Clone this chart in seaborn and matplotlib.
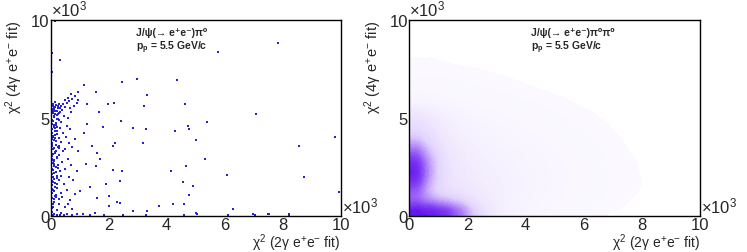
import numpy as np
import pandas as pd
import matplotlib
matplotlib.use("Agg")
import matplotlib.pyplot as plt
from matplotlib.colors import LinearSegmentedColormap
from matplotlib.ticker import MultipleLocator
import seaborn as sns

# left panel: J/psi pi0 events, chi2 values in units of 10^3
cluster_x = [0.05, 0.08, 0.12, 0.04, 0.18, 0.10, 0.22, 0.06, 0.15, 0.28, 0.09, 0.20, 0.13, 0.33, 0.05,
             0.17, 0.25, 0.08, 0.38, 0.12, 0.21, 0.06, 0.30, 0.15, 0.44, 0.09, 0.24, 0.18, 0.05, 0.35,
             0.12, 0.27, 0.08, 0.20, 0.41, 0.14, 0.06, 0.31, 0.22, 0.10, 0.17, 0.37, 0.05, 0.26, 0.13,
             0.45, 0.20, 0.08, 0.32, 0.16, 0.40, 0.11, 0.25, 0.50, 0.06, 0.35, 0.19, 0.29, 0.42, 0.55,
             0.14, 0.62, 0.48, 0.75, 0.85, 0.70, 0.58, 0.95, 0.90, 0.80, 0.65, 0.70, 0.60, 0.55, 0.68,
             0.52, 0.62, 0.75, 0.50, 0.85, 0.95, 0.58, 0.70, 0.48, 0.90, 0.62, 0.78, 0.45, 0.55, 0.85,
             0.40, 0.65, 0.30, 0.50, 0.75, 0.20, 0.35, 0.60, 0.27, 0.36, 0.03, 0.23, 0.03, 0.11, 0.34,
             0.02, 0.19, 0.03, 0.28, 0.02, 0.15, 0.02, 0.24, 0.03, 0.33, 0.09, 0.02, 0.02, 0.02, 0.02,
             0.02, 0.02, 0.02, 0.02, 0.02, 0.02, 0.02, 0.02, 0.02, 0.02, 0.07, 0.13, 0.20, 0.31, 0.45,
             0.55, 0.72, 0.90, 1.10, 1.35, 1.52, 1.85, 2.50, 3.30, 4.60, 5.05, 6.10, 7.05, 7.50, 8.20,
             0.02, 0.04, 0.04, 0.32, 0.16, 0.02,
             0.01, 0.04, 0.07, 0.11, 0.14, 0.03, 0.09, 0.16, 0.21, 0.06, 0.12, 0.01, 0.05, 0.18, 0.08,
             0.26, 0.02, 0.13, 0.10, 0.04, 0.23, 0.07, 0.15, 0.01, 0.11, 0.29, 0.05, 0.19, 0.03, 0.09,
             0.14, 0.06, 0.22, 0.01, 0.12, 0.17, 0.04, 0.08, 0.27, 0.02, 0.10, 0.15, 0.06, 0.20, 0.03,
             0.13, 0.09, 0.01, 0.24, 0.07, 0.16, 0.04, 0.11, 0.30, 0.02, 0.18, 0.08, 0.05, 0.14, 0.21]
cluster_y = [0.20, 0.45, 0.70, 0.90, 1.05, 1.25, 1.40, 1.55, 1.65, 1.80, 1.95, 2.05, 2.20, 2.30, 2.40,
             2.50, 2.60, 2.70, 2.75, 2.85, 2.95, 3.05, 3.10, 3.20, 3.30, 3.40, 3.50, 3.60, 3.70, 3.75,
             3.85, 3.95, 4.05, 4.15, 4.20, 4.30, 4.40, 4.45, 4.55, 4.65, 4.75, 4.80, 4.90, 4.95, 5.05,
             5.10, 5.15, 5.25, 5.30, 5.35, 5.40, 5.45, 5.50, 5.55, 5.60, 5.60, 5.65, 5.70, 5.72, 5.75,
             5.80, 5.85, 5.90, 5.95, 6.10, 6.20, 6.00, 5.90, 5.75, 5.60, 5.50, 5.30, 5.00, 4.60, 4.40,
             4.00, 3.70, 3.50, 3.40, 3.90, 3.30, 2.90, 2.60, 2.40, 2.30, 2.00, 1.80, 1.60, 1.30, 1.10,
             0.95, 0.80, 0.60, 0.45, 0.35, 0.30, 0.15, 0.60, 0.85, 1.15, 1.35, 1.90, 2.15, 2.55, 2.05,
             2.95, 3.30, 3.55, 3.45, 4.25, 4.50, 4.75, 5.20, 5.35, 5.50, 5.70, 5.50, 5.10, 4.60, 4.00,
             3.80, 3.20, 2.60, 2.30, 1.80, 1.50, 1.10, 0.70, 0.35, 0.05, 0.05, 0.08, 0.04, 0.06, 0.03,
             0.08, 0.05, 0.10, 0.07, 0.05, 0.12, 0.06, 0.04, 0.05, 0.06, 0.10, 0.04, 0.05, 0.07, 0.06,
             6.50, 7.35, 8.30, 7.96, 9.95, 6.90,
             0.15, 0.40, 0.62, 0.85, 1.00, 1.18, 1.32, 1.48, 1.62, 1.75, 1.88, 2.00, 2.12, 2.25, 2.35,
             2.45, 2.58, 2.65, 2.78, 2.90, 3.02, 3.14, 3.25, 3.36, 3.48, 3.58, 3.66, 3.80, 3.92, 4.00,
             4.10, 4.22, 4.33, 4.42, 4.52, 4.62, 4.70, 4.82, 4.88, 4.97, 5.08, 5.18, 5.28, 5.36, 5.43,
             5.52, 5.58, 5.65, 5.62, 5.68, 5.55, 5.45, 5.33, 5.22, 0.55, 0.95, 1.70, 2.85, 3.95, 4.95]

sparse_x = [7.85, 5.76, 2.97, 4.34, 2.45, 1.15, 3.31, 1.56, 0.93, 4.64, 3.20, 2.18, 1.99, 1.26, 1.68,
            7.08, 2.41, 5.38, 1.26, 2.85, 1.79, 3.29, 4.72, 4.78, 4.28, 1.15, 9.79, 5.01, 3.17, 1.43,
            2.16, 2.23, 8.57, 1.61, 5.32, 1.70, 1.20, 1.56, 4.67, 4.14, 2.14, 2.46, 6.07, 8.72, 2.39,
            4.55, 1.91, 4.90, 1.01, 1.36, 2.00, 4.76, 9.93, 1.59, 2.30, 2.39, 4.21, 4.60, 2.00, 6.30,
            3.31, 2.83, 3.72, 5.01, 6.99, 7.51, 8.21]
sparse_y = [8.81, 8.33, 6.97, 6.94, 6.80, 6.65, 6.16, 6.33, 6.33, 5.71, 5.61, 5.73, 5.68, 5.71, 5.27,
            5.17, 4.83, 4.76, 4.66, 4.49, 4.54, 4.44, 4.59, 4.42, 4.32, 4.20, 4.03, 3.86, 3.72, 3.57,
            3.57, 3.71, 3.55, 3.20, 2.89, 2.87, 2.65, 2.55, 2.55, 2.28, 2.33, 2.28, 2.07, 1.97, 1.77,
            1.73, 1.63, 1.53, 1.26, 1.46, 0.99, 1.05, 1.19, 0.88, 0.68, 0.65, 0.61, 0.61, 0.51, 0.34,
            0.24, 0.24, 0.48, 0.14, 0.07, 0.07, 0.07]

# right panel: J/psi pi0 pi0 events, relative density on a 0.5k grid (rows: y from 0.25 up)
grid_centres = np.arange(0.25, 10.0, 0.5)
density_rows = [
    [100, 95, 85, 60, 30, 15, 8, 5, 4, 3, 2, 2, 1.5, 1, 1, 1, 0.8, 0.7, 0.6, 0.5],
    [60, 45, 35, 28, 18, 12, 8, 6, 4.5, 3.5, 3, 2.5, 2, 1.5, 1.2, 1, 0.9, 0.8, 0.7, 0.6],
    [65, 30, 22, 18, 14, 11, 8, 6, 5, 4, 3, 2.5, 2, 1.6, 1.3, 1.1, 1, 0.9, 0.8, 0.7],
    [85, 35, 20, 15, 12, 10, 8, 6.5, 5, 4, 3.2, 2.6, 2.1, 1.7, 1.4, 1.2, 1, 0.9, 0.8, 0.7],
    [95, 40, 20, 14, 11, 9, 7.5, 6, 5, 4, 3.2, 2.6, 2, 1.6, 1.3, 1.1, 1, 0.9, 0.8, 0.7],
    [85, 38, 19, 13, 10, 8, 7, 5.5, 4.5, 3.8, 3, 2.4, 2, 1.6, 1.3, 1.1, 0.9, 0.8, 0.7, 0.6],
    [65, 32, 17, 12, 9, 7, 6, 5, 4, 3.4, 2.8, 2.3, 1.9, 1.5, 1.2, 1, 0.9, 0.8, 0.7, 0.6],
    [40, 25, 15, 10, 8, 6, 5, 4.2, 3.5, 3, 2.5, 2, 1.7, 1.4, 1.1, 1, 0.8, 0.7, 0.6, 0.5],
    [28, 20, 12, 8, 6.5, 5, 4.2, 3.5, 3, 2.5, 2.1, 1.8, 1.5, 1.2, 1, 0.9, 0.7, 0.6, 0.5, 0.5],
    [22, 16, 10, 7, 5.5, 4.2, 3.5, 3, 2.5, 2.1, 1.8, 1.5, 1.3, 1.1, 0.9, 0.8, 0.6, 0.5, 0.5, 0.4],
    [15, 11, 7, 5, 4, 3.3, 2.8, 2.4, 2, 1.7, 1.5, 1.3, 1.1, 0.9, 0.8, 0.7, 0.6, 0.5, 0.4, 0.4],
    [6, 5, 4, 3.2, 2.8, 2.4, 2, 1.8, 1.6, 1.4, 1.2, 1, 0.9, 0.8, 0.7, 0.6, 0.5, 0.4, 0.4, 0.3],
    [3, 2.8, 2.5, 2.2, 2, 1.8, 1.6, 1.4, 1.2, 1.1, 1, 0.9, 0.8, 0.7, 0.6, 0.5, 0.4, 0.4, 0.3, 0.3],
    [2, 2, 1.8, 1.7, 1.6, 1.4, 1.3, 1.1, 1, 0.9, 0.8, 0.7, 0.6, 0.6, 0.5, 0.4, 0.4, 0.3, 0.3, 0.3],
    [1.5, 1.5, 1.4, 1.3, 1.2, 1.1, 1, 0.9, 0.8, 0.7, 0.6, 0.6, 0.5, 0.5, 0.4, 0.4, 0.3, 0.3, 0.3, 0.2],
    [1.2, 1.2, 1.1, 1, 1, 0.9, 0.8, 0.7, 0.7, 0.6, 0.5, 0.5, 0.4, 0.4, 0.4, 0.3, 0.3, 0.3, 0.2, 0.2],
    [1, 1, 0.9, 0.9, 0.8, 0.7, 0.7, 0.6, 0.6, 0.5, 0.5, 0.4, 0.4, 0.3, 0.3, 0.3, 0.3, 0.2, 0.2, 0.2],
    [0.8, 0.8, 0.8, 0.7, 0.7, 0.6, 0.6, 0.5, 0.5, 0.4, 0.4, 0.4, 0.3, 0.3, 0.3, 0.3, 0.2, 0.2, 0.2, 0.2],
    [0.7, 0.7, 0.7, 0.6, 0.6, 0.5, 0.5, 0.5, 0.4, 0.4, 0.4, 0.3, 0.3, 0.3, 0.3, 0.2, 0.2, 0.2, 0.2, 0.2],
    [0.6, 0.6, 0.6, 0.5, 0.5, 0.5, 0.4, 0.4, 0.4, 0.4, 0.3, 0.3, 0.3, 0.3, 0.2, 0.2, 0.2, 0.2, 0.2, 0.2],
]

sns.set_style("white")
plt.rcParams['font.family'] = ['Liberation Sans', 'DejaVu Sans']
plt.rcParams['mathtext.fontset'] = 'custom'
plt.rcParams['mathtext.rm'] = 'Liberation Sans'
plt.rcParams['mathtext.it'] = 'Liberation Sans'
plt.rcParams['mathtext.bf'] = 'Liberation Sans:bold'
plt.rcParams['mathtext.default'] = 'regular'

fig = plt.figure(figsize=(7.47, 2.53), dpi=100)
ax1 = fig.add_axes([0.0679, 0.1435, 0.3882, 0.7745])
ax2 = fig.add_axes([0.5479, 0.1435, 0.3892, 0.7745])

left = pd.DataFrame({"x": cluster_x + sparse_x, "y": cluster_y + sparse_y})
sns.scatterplot(data=left, x="x", y="y", ax=ax1, marker="s", s=3,
                color="#2424d6", linewidth=0)

# density grid, mirrored at the x=0 and y=0 edges so the kde does not fade at the axes
gx, gy = np.meshgrid(grid_centres, grid_centres)
w = np.array(density_rows).ravel()
gx, gy = gx.ravel(), gy.ravel()
right = pd.DataFrame({"x": np.concatenate([gx, -gx, gx, -gx]),
                      "y": np.concatenate([gy, gy, -gy, -gy]),
                      "w": np.tile(w, 4)})
violet = LinearSegmentedColormap.from_list(
    "vio", [(0.0, "#fbf9ff"), (0.3, "#e2d4fd"), (0.55, "#ad7ff8"),
            (0.75, "#8443f4"), (1.0, "#6211ee")])
sns.kdeplot(data=right, x="x", y="y", weights="w", ax=ax2, fill=True,
            levels=40, thresh=0.05, cmap=violet, bw_adjust=0.25,
            clip=((0, 10), (0, 10)), gridsize=250)

titles = ["J/ψ(→ e⁺e⁻)π⁰", "J/ψ(→ e⁺e⁻)π⁰π⁰"]
title_x = [0.295, 0.42]
for ax, t, tx in zip([ax1, ax2], titles, title_x):
    ax.set_xlim(0, 10)
    ax.set_ylim(0, 10)
    ax.xaxis.set_major_locator(MultipleLocator(2))
    ax.xaxis.set_minor_locator(MultipleLocator(0.4))
    ax.yaxis.set_major_locator(MultipleLocator(5))
    ax.yaxis.set_minor_locator(MultipleLocator(1))
    ax.tick_params(which="both", direction="in", top=False, right=False,
                   labelsize=12, pad=1, color="black")
    ax.tick_params(which="major", length=7, width=0.8)
    ax.tick_params(which="minor", length=4, width=0.8)
    ax.minorticks_on()
    for s in ax.spines.values():
        s.set_color("black")
        s.set_linewidth(1)
        s.set_visible(True)
    ax.set_xlabel(r"$\chi^{2}$ (2$\gamma$ e$^{+}$e$^{-}$ fit)", fontsize=10, ha="right", va="top")
    ax.xaxis.set_label_coords(1.0, -0.08)
    ax.set_ylabel(r"$\chi^{2}$ (4$\gamma$ e$^{+}$e$^{-}$ fit)", fontsize=10.5, loc="top", labelpad=4)
    ax.text(0.0, 1.005, r"$\times 10^{3}$", transform=ax.transAxes, fontsize=12,
            ha="left", va="bottom")
    ax.text(1.005, 0.0, r"$\times 10^{3}$", transform=ax.transAxes, fontsize=12,
            ha="left", va="bottom")
    ax.text(tx, 0.94, t, transform=ax.transAxes, fontsize=7.5, fontweight="bold",
            ha="left", va="center")
    ax.text(tx, 0.86, r"p$_{p}$ = 5.5 GeV/c", transform=ax.transAxes, fontsize=7.5,
            fontweight="bold", ha="left", va="center")

fig.savefig("out.png", dpi=100, facecolor="white")
